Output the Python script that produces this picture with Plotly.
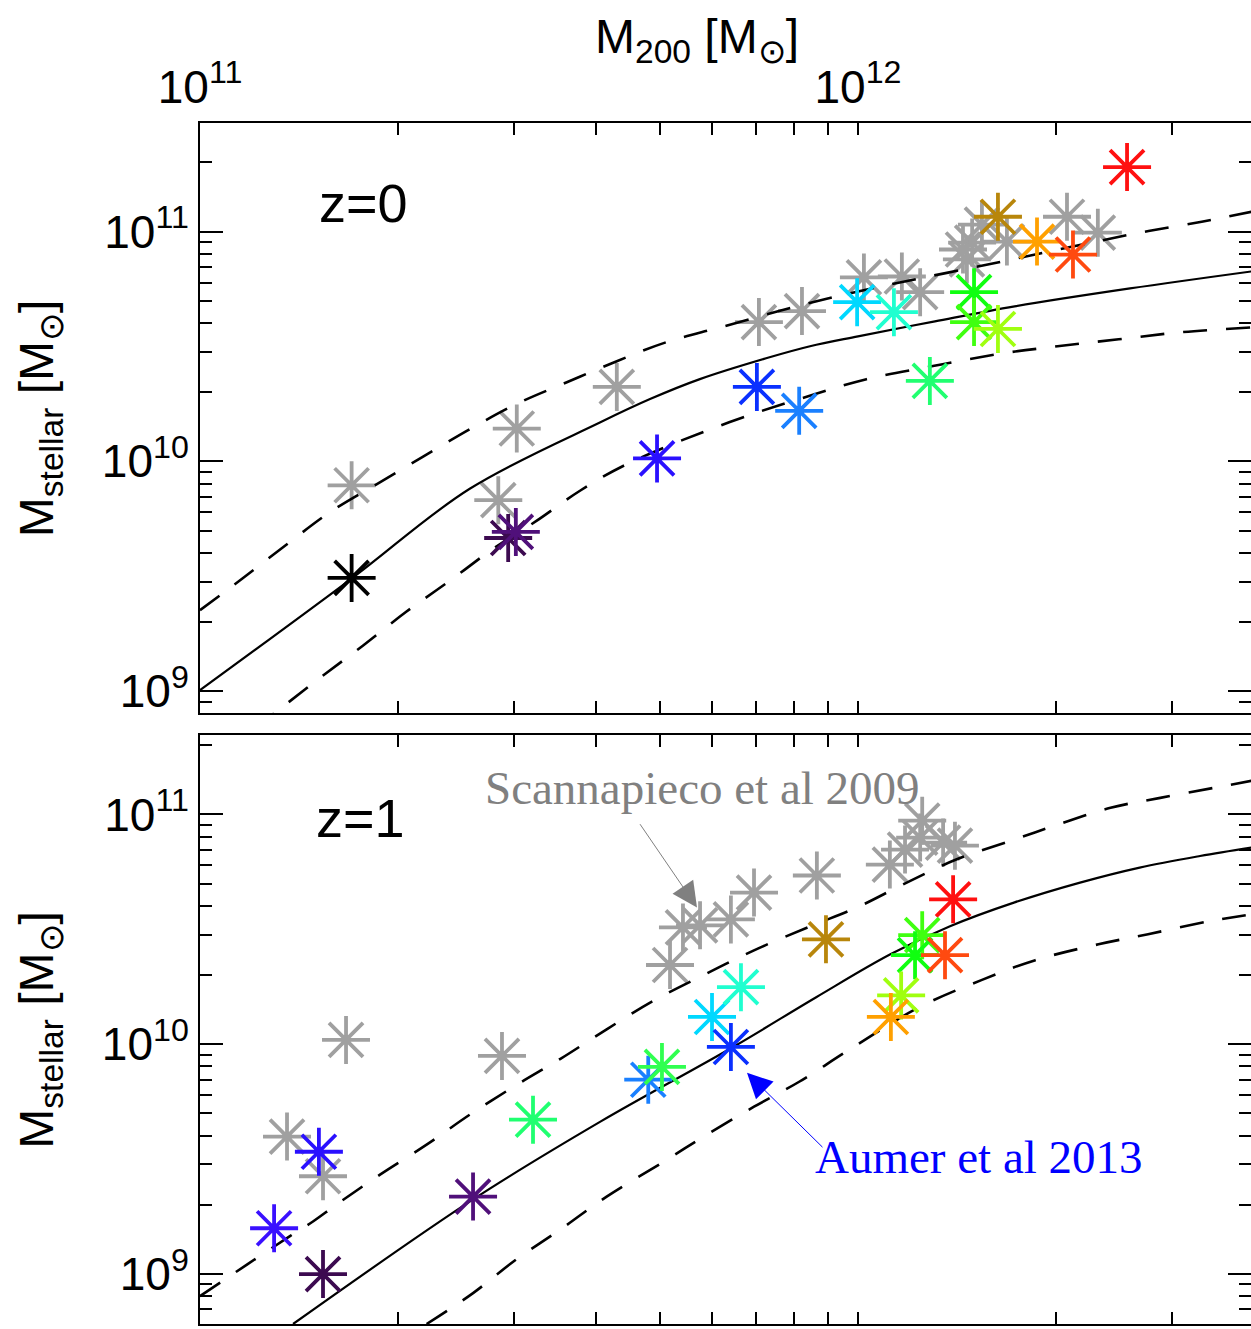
import plotly.graph_objects as go

# ---------------- data ----------------
# z = 0 panel : abundance-matching relation (solid) and its scatter (dashed)
z0_solid_m200 = [1.00e11, 1.70e11, 2.57e11, 4.06e11, 4.83e11, 5.75e11, 7.25e11, 8.455e11, 1.00e12,
                 1.309e12, 1.73e12, 2.591e12, 3.96e12]
z0_solid_mstar = [1.01e9, 3.09e9, 7.60e9, 1.48e10, 1.867e10, 2.28e10, 2.81e10, 3.17e10, 3.50e10,
                  4.07e10, 4.73e10, 5.66e10, 6.71e10]

z0_upper_m200 = [1.00e11, 1.16e11, 1.36e11, 1.58e11, 1.86e11, 2.18e11, 2.57e11, 3.03e11, 3.61e11,
                 4.30e11, 5.11e11, 6.17e11, 7.56e11, 9.13e11, 1.12e12, 1.63e12, 2.12e12, 2.68e12,
                 3.33e12, 3.96e12]
z0_upper_mstar = [2.25e9, 3.09e9, 4.39e9, 6.04e9, 7.99e9, 1.046e10, 1.38e10, 1.78e10, 2.21e10,
                  2.73e10, 3.30e10, 3.83e10, 4.50e10, 5.17e10, 5.89e10, 7.34e10, 8.61e10, 9.90e10,
                  1.105e11, 1.22e11]

z0_lower_m200 = [1.21e11, 1.31e11, 1.52e11, 1.77e11, 2.06e11, 2.40e11, 2.79e11, 3.25e11, 3.78e11,
                 4.46e11, 6.37e11, 8.40e11, 1.03e12, 1.30e12, 1.63e12, 2.01e12, 2.49e12, 3.10e12,
                 3.96e12]
z0_lower_mstar = [6.91e8, 8.19e8, 1.14e9, 1.58e9, 2.22e9, 3.03e9, 4.17e9, 5.52e9, 7.45e9,
                  9.75e9, 1.48e10, 1.92e10, 2.28e10, 2.60e10, 2.93e10, 3.17e10, 3.40e10, 3.65e10,
                  3.83e10]

# z = 0 : Scannapieco et al 2009 (grey)
z0_scan_m200 = [1.70e11, 3.03e11, 4.30e11, 2.84e11, 7.07e11, 8.22e11, 1.021e12, 1.166e12, 1.243e12,
                1.444e12, 1.491e12, 1.464e12, 1.543e12, 1.684e12, 2.078e12, 2.315e12]
z0_scan_mstar = [7.87e9, 1.39e10, 2.11e10, 6.78e9, 4.04e10, 4.51e10, 6.32e10, 6.38e10, 5.45e10,
                 8.36e10, 8.96e10, 7.57e10, 1.072e11, 9.05e10, 1.161e11, 9.90e10]

# z = 0 : Aumer et al 2013 (coloured)
z0_aumer_m200 = [1.70e11, 2.94e11, 3.02e11, 4.95e11, 7.02e11, 8.14e11, 9.97e11, 1.134e12, 1.286e12,
                 1.501e12, 1.501e12, 1.632e12, 1.632e12, 1.871e12, 2.122e12, 2.564e12]
z0_aumer_mstar = [3.11e9, 4.64e9, 4.93e9, 1.03e10, 2.11e10, 1.66e10, 4.93e10, 4.46e10, 2.24e10,
                  5.45e10, 4.04e10, 3.77e10, 1.161e11, 9.05e10, 7.95e10, 1.91e11]
z0_aumer_colors = ["#000000", "#3c0a50", "#50107a", "#2a10ff", "#0a30ff", "#1a80ff", "#00d8ff",
                   "#20ffd0", "#20ff70", "#10ff10", "#40ff10", "#a0ff10", "#b8860b", "#ffa000",
                   "#ff4a10", "#ff1010"]

# z = 1 panel
z1_solid_m200 = [1.385e11, 2.60e11, 4.06e11, 6.46e11, 8.64e11, 1.12e12, 1.38e12, 1.73e12, 2.175e12,
                 2.68e12, 3.31e12, 3.96e12]
z1_solid_mstar = [6.05e8, 2.11e9, 4.60e9, 9.72e9, 1.60e10, 2.46e10, 3.26e10, 4.14e10, 5.05e10,
                  5.87e10, 6.59e10, 7.17e10]

z1_upper_m200 = [1.00e11, 1.18e11, 1.37e11, 1.485e11, 1.615e11, 1.88e11, 2.21e11, 2.57e11, 3.03e11,
                 3.53e11, 4.15e11, 4.90e11, 5.83e11, 6.95e11, 8.40e11, 9.97e11, 1.17e12, 1.41e12,
                 1.71e12, 2.01e12, 2.42e12, 2.88e12, 3.48e12, 3.96e12]
z1_upper_mstar = [8.00e8, 1.10e9, 1.46e9, 1.69e9, 2.01e9, 2.71e9, 3.65e9, 4.93e9, 6.65e9,
                  8.63e9, 1.16e10, 1.55e10, 2.00e10, 2.56e10, 3.23e10, 3.94e10, 4.95e10, 6.36e10,
                  7.69e10, 9.02e10, 1.069e11, 1.18e11, 1.306e11, 1.40e11]

z1_lower_m200 = [2.21e11, 2.60e11, 3.03e11, 3.53e11, 4.15e11, 5.04e11, 5.83e11, 6.95e11, 8.14e11,
                 9.69e11, 1.24e12, 1.54e12, 1.86e12, 2.32e12, 2.76e12, 3.48e12, 3.96e12]
z1_lower_mstar = [6.05e8, 8.25e8, 1.16e9, 1.56e9, 2.17e9, 3.05e9, 3.96e9, 5.34e9, 6.86e9,
                  9.44e9, 1.45e10, 1.90e10, 2.32e10, 2.72e10, 3.01e10, 3.46e10, 3.67e10]

z1_scan_m200 = [1.667e11, 2.877e11, 1.356e11, 1.538e11, 5.18e11, 5.42e11, 5.754e11, 6.41e11,
                6.95e11, 8.66e11, 1.118e12, 1.179e12, 1.243e12, 1.252e12, 1.347e12, 1.404e12]
z1_scan_mstar = [1.043e10, 8.89e9, 3.96e9, 2.66e9, 2.21e10, 3.22e10, 3.29e10, 3.49e10,
                 4.57e10, 5.42e10, 6.05e10, 7.03e10, 7.93e10, 9.39e10, 7.54e10, 7.31e10]

z1_aumer_m200 = [1.296e11, 1.516e11, 1.538e11, 2.60e11, 3.207e11, 4.80e11, 5.036e11, 6.00e11,
                 6.41e11, 6.64e11, 8.94e11, 1.395e12, 1.252e12, 1.221e12, 1.356e12, 1.163e12, 1.122e12]
z1_aumer_mstar = [1.58e9, 3.40e9, 9.98e8, 2.17e9, 4.69e9, 7.00e9, 7.96e9, 1.313e10,
                  9.72e9, 1.77e10, 2.86e10, 4.27e10, 2.98e10, 2.44e10, 2.44e10, 1.63e10, 1.313e10]
z1_aumer_colors = ["#3a10ff", "#2a10ff", "#3c0a50", "#50107a", "#20ff70", "#1a80ff", "#30ff50",
                   "#00d8ff", "#0a30ff", "#20ffd0", "#b8860b", "#ff1010", "#40ff10", "#10ff10",
                   "#ff4a10", "#a0ff10", "#ffa000"]

# axis ticks
x_major = [1e11, 1e12]
x_major_text = ["10<sup>11</sup>", "10<sup>12</sup>"]
x_minor = [2e11, 3e11, 4e11, 5e11, 6e11, 7e11, 8e11, 9e11, 2e12, 3e12]
y_major = [1e9, 1e10, 1e11]
y_major_text = ["10<sup>9</sup>", "10<sup>10</sup>", "10<sup>11</sup>"]
y_minor = [m * 10 ** e for e in (8, 9, 10, 11) for m in range(2, 10)]

# ---------------- styling ----------------
GREY = "#a0a0a0"
LBL_FONT = "Liberation Sans Narrow, Liberation Sans, Arial, sans-serif"
SANS = "Liberation Sans, Arial, sans-serif"
SERIF = "Liberation Serif, Times New Roman, serif"
STAR_SIZE = 40
STAR_LW = 3.8

fig = go.Figure()


def add_panel(xa, ya, solid, upper, lower, scan, aumer, colors):
    fig.add_trace(go.Scatter(x=scan[0], y=scan[1], mode="markers", xaxis=xa, yaxis=ya,
                             marker=dict(symbol="asterisk-open", size=STAR_SIZE, color=GREY,
                                         line=dict(color=GREY, width=STAR_LW)),
                             showlegend=False, hoverinfo="skip"))
    for (xs, ys), dash in ((upper, "24px,19px"), (lower, "24px,19px"), (solid, "solid")):
        fig.add_trace(go.Scatter(x=xs, y=ys, mode="lines", xaxis=xa, yaxis=ya,
                                 line=dict(color="black", width=2.6 if dash != "solid" else 2.2,
                                           dash=dash, shape="spline", smoothing=1.0),
                                 showlegend=False, hoverinfo="skip"))
    fig.add_trace(go.Scatter(x=aumer[0], y=aumer[1], mode="markers", xaxis=xa, yaxis=ya,
                             marker=dict(symbol="asterisk-open", size=STAR_SIZE, color=colors,
                                         line=dict(color=colors, width=STAR_LW)),
                             showlegend=False, hoverinfo="skip"))


add_panel("x", "y", (z0_solid_m200, z0_solid_mstar), (z0_upper_m200, z0_upper_mstar),
          (z0_lower_m200, z0_lower_mstar), (z0_scan_m200, z0_scan_mstar),
          (z0_aumer_m200, z0_aumer_mstar), z0_aumer_colors)
add_panel("x2", "y2", (z1_solid_m200, z1_solid_mstar), (z1_upper_m200, z1_upper_mstar),
          (z1_lower_m200, z1_lower_mstar), (z1_scan_m200, z1_scan_mstar),
          (z1_aumer_m200, z1_aumer_mstar), z1_aumer_colors)

tick_common = dict(type="log", ticks="inside", tickwidth=2, tickcolor="black", showgrid=False,
                   zeroline=False, tickmode="array",
                   tickfont=dict(family=LBL_FONT, size=46, color="black"))
x_minor_d = dict(tickmode="array", tickvals=x_minor, ticks="inside", ticklen=6, tickwidth=2,
                 tickcolor="black", showgrid=False)
y_minor_d = dict(tickmode="array", tickvals=y_minor, ticks="inside", ticklen=12, tickwidth=2,
                 tickcolor="black", showgrid=False)

XR = [11.0, 12.5973]
YR_TOP = [8.9046, 11.4729]
YR_BOT = [8.7818, 11.3458]
DOM_TOP = [0.50912, 1.0]
DOM_BOT = [0.00083, 0.49088]
fig.update_layout(
    width=1251, height=1329,
    margin=dict(l=200, r=0, t=123, b=0),
    paper_bgcolor="white", plot_bgcolor="white",
    xaxis=dict(**tick_common, showline=True, linecolor="black", linewidth=2, mirror="allticks",
               domain=[0, 1], anchor="y", side="top", range=XR,
               tickvals=x_major, ticktext=x_major_text, ticklen=12, minor=x_minor_d,
               showticklabels=True),
    xaxis2=dict(**tick_common, showline=True, linecolor="black", linewidth=2, mirror="allticks",
                domain=[0, 1], anchor="y2", side="bottom", range=XR,
                tickvals=x_major, ticktext=x_major_text, ticklen=12, minor=x_minor_d,
                showticklabels=False),
    yaxis=dict(**tick_common, showline=True, linecolor="black", linewidth=2, mirror=False,
               domain=DOM_TOP, anchor="x", range=YR_TOP,
               tickvals=y_major, ticktext=y_major_text, ticklen=23, minor=y_minor_d),
    yaxis2=dict(**tick_common, showline=True, linecolor="black", linewidth=2, mirror=False,
                domain=DOM_BOT, anchor="x2", range=YR_BOT,
                tickvals=y_major, ticktext=y_major_text, ticklen=23, minor=y_minor_d),
    # right-hand tick marks (the frame's right edge is cut off in the reference)
    yaxis3=dict(**tick_common, showline=False, overlaying="y", side="right", anchor="x",
                range=YR_TOP, tickvals=y_major, ticklen=23, minor=y_minor_d,
                showticklabels=False),
    yaxis4=dict(**tick_common, showline=False, overlaying="y2", side="right", anchor="x2",
                range=YR_BOT, tickvals=y_major, ticklen=23, minor=y_minor_d,
                showticklabels=False),
)
# invisible traces so that the right-hand tick axes are drawn
fig.add_trace(go.Scatter(x=[None], y=[None], xaxis="x", yaxis="y3", showlegend=False,
                         hoverinfo="skip"))
fig.add_trace(go.Scatter(x=[None], y=[None], xaxis="x2", yaxis="y4", showlegend=False,
                         hoverinfo="skip"))

ytitle = "M<sub>stellar</sub> [M<sub>⊙</sub>]"
annotations = [
    dict(text="M<sub>200</sub> [M<sub>⊙</sub>]", xref="paper", yref="paper", x=0.4729, y=1.0688,
         showarrow=False, font=dict(family=SANS, size=48, color="black"),
         xanchor="center", yanchor="middle"),
    dict(text=ytitle, xref="paper", yref="paper", x=-0.152, y=0.7546, textangle=-90,
         showarrow=False, font=dict(family=SANS, size=48, color="black"),
         xanchor="center", yanchor="middle"),
    dict(text=ytitle, xref="paper", yref="paper", x=-0.152, y=0.2459, textangle=-90,
         showarrow=False, font=dict(family=SANS, size=48, color="black"),
         xanchor="center", yanchor="middle"),
    dict(text="z=0", xref="x", yref="y", x=11.2492, y=11.1258, showarrow=False,
         font=dict(family=SANS, size=54, color="black"), xanchor="center", yanchor="middle"),
    dict(text="z=1", xref="x2", yref="y2", x=11.2432, y=10.9857, showarrow=False,
         font=dict(family=SANS, size=54, color="black"), xanchor="center", yanchor="middle"),
    dict(text="Scannapieco et al 2009", xref="x2", yref="y2", x=11.763, y=11.116,
         showarrow=False, font=dict(family=SERIF, size=47, color="#808080"),
         xanchor="center", yanchor="middle"),
    dict(text="", xref="x2", yref="y2", x=11.7553, y=10.5952, axref="x2", ayref="y2",
         ax=11.6672, ay=10.964, showarrow=True, arrowhead=2, arrowsize=5, arrowwidth=1,
         arrowcolor="#808080"),
    dict(text="Aumer et al 2013", xref="x2", yref="y2", x=12.1839, y=9.5106,
         showarrow=False, font=dict(family=SERIF, size=47, color="#0000ff"),
         xanchor="center", yanchor="middle"),
    dict(text="", xref="x2", yref="y2", x=11.8313, y=9.875, axref="x2", ayref="y2",
         ax=11.9483, ay=9.5453, showarrow=True, arrowhead=2, arrowsize=5, arrowwidth=1,
         arrowcolor="#0000ff"),
]
fig.update_layout(annotations=annotations)

fig.write_html("out.html", config={"displayModeBar": False},
               post_script="document.body.style.margin='0';")
